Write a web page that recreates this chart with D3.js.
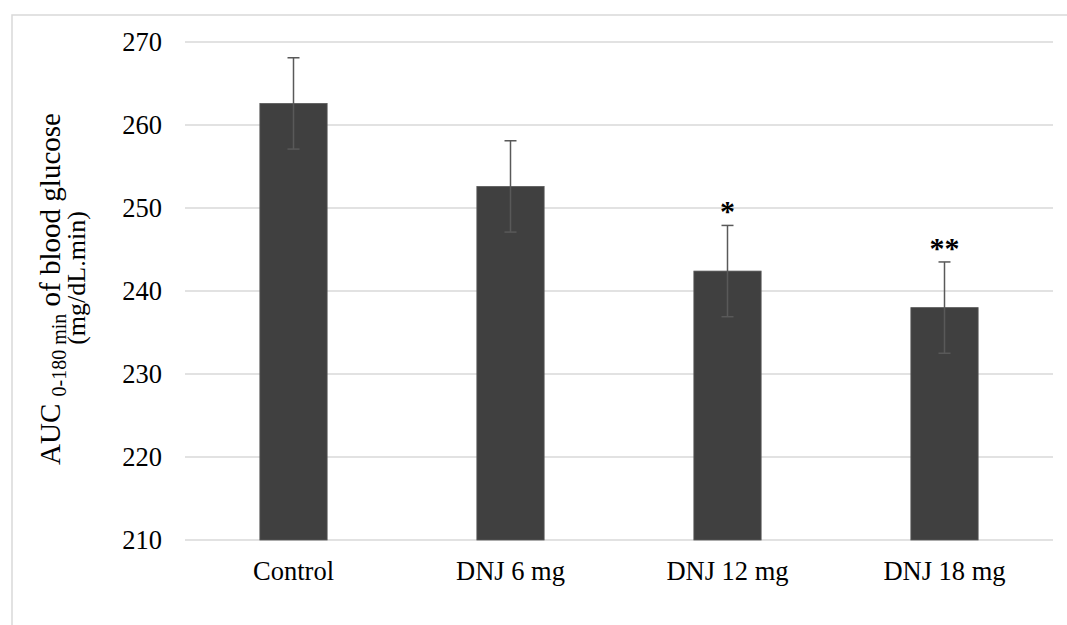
<!DOCTYPE html>
<html>
<head>
<meta charset="utf-8">
<script src="https://cdn.jsdelivr.net/npm/d3@7"></script>
<style>
  body { margin: 0; background: #fff; }
</style>
</head>
<body>
<div id="chart"></div>
<script>
// data
let categories = ["Control", "DNJ 6 mg", "DNJ 12 mg", "DNJ 18 mg"];
let means = [262.6, 252.6, 242.4, 238.0];
let errors = [5.5, 5.5, 5.5, 5.5];
let marks = ["", "", "*", "**"];
let yTicks = [210, 220, 230, 240, 250, 260, 270];

let width = 1067;
let height = 625;
let serif = "'Liberation Serif', 'Times New Roman', serif";
let plot = { left: 185, right: 1053, top: 42, bottom: 540 };

let svg = d3.select("#chart").append("svg")
    .attr("width", width)
    .attr("height", height);

svg.append("rect")
    .attr("width", width).attr("height", height)
    .attr("fill", "#fff");

// chart frame (only top/left visible)
svg.append("rect")
    .attr("x", 12).attr("y", 15)
    .attr("width", 1200).attr("height", 800)
    .attr("fill", "none")
    .attr("stroke", "#d9d9d9")
    .attr("stroke-width", 1.5);

// scales
let yScale = d3.scaleLinear()
    .domain([210, 270])
    .range([plot.bottom, plot.top]);

let xScale = d3.scaleBand()
    .domain(categories)
    .range([plot.left, plot.right])
    .paddingInner(0.69)
    .paddingOuter(0.345);

// gridlines
svg.append("g")
    .selectAll("line")
    .data(yTicks)
    .enter().append("line")
    .attr("x1", plot.left)
    .attr("x2", plot.right)
    .attr("y1", d => yScale(d))
    .attr("y2", d => yScale(d))
    .attr("stroke", "#d9d9d9")
    .attr("stroke-width", 1.5);

// y axis labels
let yAxis = d3.axisLeft(yScale)
    .tickValues(yTicks)
    .tickSize(0)
    .tickPadding(0);

let yG = svg.append("g")
    .attr("transform", "translate(162,0)")
    .call(yAxis);
yG.select(".domain").remove();
yG.selectAll("text")
    .style("font-family", serif)
    .style("font-size", "26.5px")
    .attr("fill", "#000");

// x axis labels
let xAxis = d3.axisBottom(xScale).tickSize(0).tickPadding(0);
let xG = svg.append("g")
    .attr("transform", "translate(0,560)")
    .call(xAxis);
xG.select(".domain").remove();
xG.selectAll("text")
    .style("font-family", serif)
    .style("font-size", "26.5px")
    .attr("fill", "#000")
    .attr("dy", "0.75em");

// bars
svg.append("g")
    .selectAll("rect")
    .data(categories)
    .enter().append("rect")
    .attr("x", d => xScale(d))
    .attr("width", xScale.bandwidth())
    .attr("y", (d, i) => yScale(means[i]))
    .attr("height", (d, i) => yScale(210) - yScale(means[i]))
    .attr("fill", "#404040")
    .attr("stroke", "#5a5a5a")
    .attr("stroke-width", 0.8);

// error bars
let errG = svg.append("g")
    .attr("stroke", "#595959")
    .attr("stroke-width", 1.5);
categories.forEach(function(c, i) {
    let cx = xScale(c) + xScale.bandwidth() / 2;
    let top = yScale(means[i] + errors[i]);
    let bot = yScale(means[i] - errors[i]);
    errG.append("line").attr("x1", cx).attr("x2", cx).attr("y1", top).attr("y2", bot);
    errG.append("line").attr("x1", cx - 6).attr("x2", cx + 6).attr("y1", top).attr("y2", top);
    errG.append("line").attr("x1", cx - 6).attr("x2", cx + 6).attr("y1", bot).attr("y2", bot);
});

// significance marks
svg.append("g")
    .selectAll("text")
    .data(categories)
    .enter().append("text")
    .attr("x", d => xScale(d) + xScale.bandwidth() / 2)
    .attr("y", (d, i) => yScale(means[i] + errors[i]) - 4)
    .attr("text-anchor", "middle")
    .style("font-family", serif)
    .style("font-size", "30px")
    .style("font-weight", "bold")
    .attr("fill", "#000")
    .text((d, i) => marks[i]);

// y title
let t1 = svg.append("text")
    .attr("transform", "translate(60,289) rotate(-90)")
    .attr("text-anchor", "middle")
    .style("font-family", serif)
    .style("font-size", "29px")
    .attr("fill", "#000");
t1.append("tspan").text("AUC ");
t1.append("tspan").attr("dy", 6).style("font-size", "20px").text("0-180 min");
t1.append("tspan").attr("dy", -6).text(" of blood glucose");

svg.append("text")
    .attr("transform", "translate(85,278) rotate(-90)")
    .attr("text-anchor", "middle")
    .style("font-family", serif)
    .style("font-size", "26px")
    .attr("fill", "#000")
    .text("(mg/dL.min)");
</script>
</body>
</html>
